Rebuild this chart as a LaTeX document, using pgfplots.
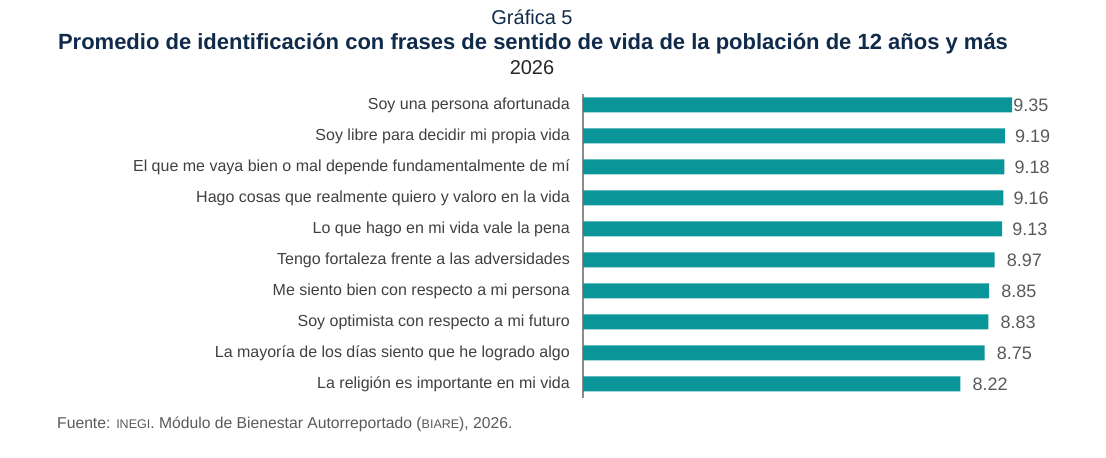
\documentclass[border=0pt]{standalone}
\usepackage{fontspec}
\setmainfont{Liberation Sans}
\usepackage{pgfplots}
\pgfplotsset{compat=1.18}
\usepackage{pgfplotstable}
\definecolor{barteal}{RGB}{10,150,152}
\definecolor{navy}{RGB}{16,42,74}
\definecolor{lbl}{RGB}{64,64,64}
\definecolor{val}{RGB}{89,89,89}
\definecolor{axg}{RGB}{140,140,140}

\pgfplotstableread{
y x dx lab
0 9.35 1 9.35
1 9.19 10 9.19
2 9.18 10 9.18
3 9.16 10 9.16
4 9.13 10 9.13
5 8.97 12 8.97
6 8.85 12 8.85
7 8.83 12 8.83
8 8.75 12 8.75
9 8.22 12 8.22
}\datatable

\begin{document}
\begin{tikzpicture}[x=1bp,y=1bp]
\path[use as bounding box] (0,0) rectangle (1106,458);
\node[font=\fontsize{20bp}{23bp}\selectfont, text=navy] at (532,441) {Gráfica 5};
\node[font=\fontsize{22bp}{25bp}\selectfont\bfseries, text=navy] at (533,414) {Promedio de identificación con frases de sentido de vida de la población de 12 años y más};
\node[font=\fontsize{20bp}{23bp}\selectfont, text=black!85] at (532,390) {2026};
\node[anchor=west, font=\fontsize{15.7bp}{18bp}\selectfont, text=val, inner sep=0pt] at (57,34) {Fuente: {\fontsize{12.5bp}{14bp}\selectfont INEGI}. Módulo de Bienestar Autorreportado ({\fontsize{12.5bp}{14bp}\selectfont BIARE}), 2026.};
\begin{axis}[
  at={(583bp,60bp)}, anchor=south west,
  scale only axis, width=459bp, height=304bp,
  xmin=0, xmax=10, ymin=-0.355, ymax=9.452,
  y dir=reverse,
  xbar, bar width=15bp,
  axis x line=none, axis y line*=left,
  axis line style={axg, line width=1.2bp},
  ytick={0,...,9},
  yticklabels={Soy una persona afortunada, Soy libre para decidir mi propia vida, El que me vaya bien o mal depende fundamentalmente de mí, Hago cosas que realmente quiero y valoro en la vida, Lo que hago en mi vida vale la pena, Tengo fortaleza frente a las adversidades, Me siento bien con respecto a mi persona, Soy optimista con respecto a mi futuro, La mayoría de los días siento que he logrado algo, La religión es importante en mi vida},
  major tick length=0pt,
  yticklabel style={font=\fontsize{16bp}{19bp}\selectfont, text=lbl, inner sep=0pt, anchor=east, xshift=-13bp},
  clip=false,
  nodes near coords,
  point meta=explicit symbolic,
  visualization depends on={\thisrow{dx}\as\dx},
  nodes near coords style={font=\fontsize{18bp}{20bp}\selectfont, text=val, anchor=west, inner sep=0pt, xshift=\dx bp},
]
\addplot[fill=barteal, draw=none] table[x=x, y=y, meta=lab] {\datatable};
\end{axis}
\end{tikzpicture}
\end{document}
